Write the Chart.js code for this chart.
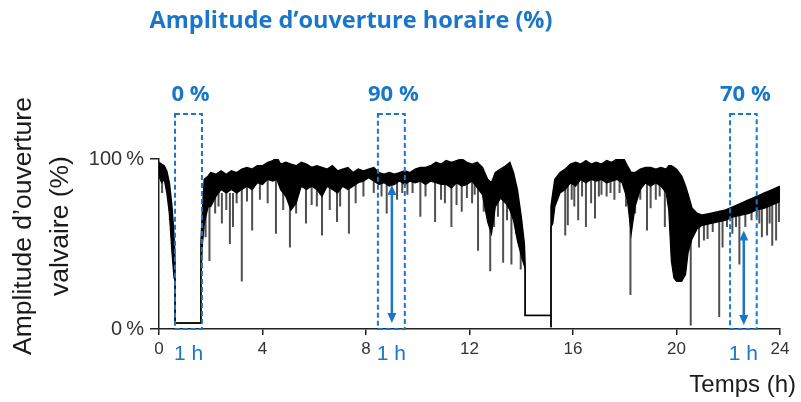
<!DOCTYPE html>
<html><head><meta charset="utf-8">
<script src="https://cdn.jsdelivr.net/npm/chart.js@4"></script>
<style>html,body{margin:0;padding:0;background:#fff}</style>
</head><body>
<canvas id="c" width="801" height="402" style="display:block;width:801px;height:402px"></canvas>
<script>
// ---- Data ----
const xTickHours = [0, 4, 8, 12, 16, 20, 24];
const yTickValues = [0, 100];

// dense signal band: hour, top envelope (%), lower edge of dense band (%)
const bandHours = [0.00,0.10,0.20,0.30,0.40,0.50,0.58,0.62,0.62,1.62,1.62,1.68,1.75,1.90,2.00,2.20,2.40,2.60,2.80,3.00,3.20,3.40,3.60,3.80,4.00,4.20,4.40,4.55,4.70,4.90,5.10,5.30,5.50,5.70,5.90,6.10,6.30,6.50,6.70,6.90,7.10,7.30,7.50,7.70,7.90,8.10,8.30,8.50,8.70,8.90,9.10,9.30,9.50,9.70,9.90,10.10,10.30,10.50,10.70,10.90,11.10,11.30,11.50,11.70,11.90,12.10,12.30,12.50,12.70,12.85,13.00,13.20,13.40,13.56,13.70,13.85,14.00,14.12,14.15,14.15,15.15,15.15,15.15,15.22,15.30,15.50,15.70,15.90,16.10,16.30,16.50,16.70,16.90,17.10,17.30,17.50,17.70,17.90,18.10,18.25,18.40,18.60,18.80,19.00,19.20,19.40,19.60,19.70,19.80,19.90,20.00,20.20,20.35,20.45,20.60,20.80,21.00,21.30,21.60,21.90,22.20,22.50,22.80,23.10,23.40,23.70,24.00];
const bandTop   = [98,97,96,93,86,72,55,40,3.5,3.5,50,70,88,90,92,91,93,91,93,92,94,95,94,96,96,98,99,101,97,98,97,96,98,97,95,96,95,94,96,93,94,95,92,94,93,94,95,92,91,92,91,92,93,92,94,95,95,96,98,97,99,98,99,100,98,97,98,95,88,86,92,94,96,98,92,82,66,50,38,8,8,1,72,80,88,92,94,97,98,97,99,97,98,97,99,98,100,102,96,92,92,94,95,95,94,95,94,96,96,95,94,90,84,79,71,68,67,68,69,70,72,74,76,78,80,82,84];
const bandLow   = [90,86,88,80,68,45,30,29,3.5,3.5,30,50,62,72,72,78,82,80,82,80,82,84,82,86,85,88,87,88,82,78,70,74,84,82,84,82,78,84,82,80,84,82,84,86,87,89,87,85,86,84,85,87,85,87,86,87,85,87,86,85,85,83,86,84,85,87,83,79,63,56,72,77,74,70,64,52,43,37,35,8,8,1,60,62,72,80,82,86,84,88,86,88,87,88,86,87,88,86,76,56,72,82,86,84,86,84,80,70,40,30,28,28,32,45,53,59,61,62,63,64,66,67,68,70,71,73,75];

// downward spikes: hour, lowest value, value where it joins the band
const spikeHours = [0.12,0.42,1.8,1.95,2.17,2.43,2.74,2.86,3.2,3.6,4.52,5.06,5.68,6.3,6.88,7.34,8.8,9.2,9.8,10.1,10.67,11.3,11.7,12.1,12.33,12.55,12.8,13.3,13.62,13.98,15.7,15.8,16.05,16.2,16.5,16.85,17.1,17.3,17.6,18.22,18.86,19.0,19.55,19.7,20.55,20.87,21.06,21.2,21.65,21.78,21.95,22.16,22.43,22.66,22.9,23.3,23.5,23.7,23.85,23.96,
  2.3,2.6,3.0,3.4,3.9,4.2,4.8,5.3,5.9,6.1,6.6,7.0,7.6,7.9,8.3,8.6,9.4,9.6,10.3,10.9,11.05,11.5,11.9,12.2,12.95,13.1,13.45,13.8,15.95,16.35,16.7,17.0,17.45,17.8,18.05,18.4,18.6,19.2,19.35,19.85,21.4,22.3,23.1,23.2,23.6];
const spikeLows  = [80,64,54,40,68,62,50,60,28,58,56,48,62,55,63,56,68,76,80,66,63,60,69,74,46,69,34,39,38,35,55,61,72,64,60,65,79,78,76,20,58,71,60,74,2,48,52,53,7,48,60,56,38,60,64,54,55,49,52,63,
  72,70,74,75,76,74,70,68,73,72,70,72,74,78,80,78,80,79,78,76,74,73,77,79,60,66,64,56,76,78,74,78,80,80,72,68,76,76,78,70,57,60,66,62,62];
const spikeTops  = [90,80,70,75,80,80,80,80,85,85,88,80,85,82,85,85,88,88,90,88,88,88,90,90,88,85,75,80,80,45,88,88,92,92,92,92,92,92,92,80,88,88,88,88,70,68,67,67,68,68,68,70,72,72,74,78,79,80,80,82,
  86,86,86,88,90,92,92,88,90,90,90,88,90,90,92,90,90,90,92,92,92,92,92,92,86,90,92,80,92,92,92,92,92,94,90,88,90,90,90,90,68,72,76,77,80];

// highlighted one-hour windows
const windowStart  = [0.62, 8.46, 22.07];
const windowEnd    = [1.66, 9.50, 23.10];
const windowLabels = ['0 %', '90 %', '70 %'];
const windowHourLabel = '1 h';
const arrowHours  = [9.0, 22.6];
const arrowTops   = [84.7, 58];
const arrowBottoms= [3.5, 2.4];

const titleText = 'Amplitude d\u2019ouverture horaire (%)';
const yTitleLines = ['Amplitude d\u2019ouverture', 'valvaire (%)'];
const xTitleText = 'Temps (h)';

// ---- build library data ----
const topData = bandHours.map((h,i)=>({x:h, y:bandTop[i]}));
const lowData = bandHours.map((h,i)=>({x:h, y:bandLow[i]}));
const spikeData = [];
spikeHours.forEach((h,i)=>{ spikeData.push({x:h,y:spikeTops[i]},{x:h,y:spikeLows[i]},{x:h,y:null}); });

const BLUE = '#1a76c8';
const FONT = "'Liberation Sans', Arial, sans-serif";

const overlay = {
  id:'overlay',
  afterDraw(chart){
    const {ctx, scales:{x,y}} = chart;
    ctx.save();
    ctx.fillStyle = BLUE;
    ctx.font = "bold 23.5px 'Open Sans', sans-serif";
    ctx.textAlign = 'center'; ctx.textBaseline = 'middle';
    ctx.fillText(titleText, 351, 21);
    ctx.save();
    ctx.translate(0, 226); ctx.rotate(-Math.PI/2);
    ctx.fillStyle = '#1a1a1a';
    ctx.font = "26.5px " + FONT;
    ctx.fillText(yTitleLines[0], 0, 24);
    ctx.fillText(yTitleLines[1], 0, 61);
    ctx.restore();
    ctx.fillStyle = '#1a1a1a';
    ctx.font = "24px " + FONT;
    ctx.textAlign = 'right';
    ctx.fillText(xTitleText, 796, 385);
    const yTop = y.getPixelForValue(126.5), yBot = y.getPixelForValue(0);
    ctx.strokeStyle = BLUE; ctx.lineWidth = 2; ctx.setLineDash([5,3]);
    windowStart.forEach((s,i)=>{
      const x0 = x.getPixelForValue(s), x1 = x.getPixelForValue(windowEnd[i]);
      ctx.strokeRect(x0, yTop, x1-x0, yBot-yTop);
    });
    ctx.setLineDash([]);
    ctx.fillStyle = BLUE; ctx.textAlign='center'; ctx.textBaseline='middle';
    windowStart.forEach((s,i)=>{
      const xc = (x.getPixelForValue(s)+x.getPixelForValue(windowEnd[i]))/2;
      ctx.font = "bold 22px 'Open Sans', sans-serif";
      ctx.fillText(windowLabels[i], xc+2, y.getPixelForValue(138));
      ctx.font = "21px " + FONT;
      ctx.fillText(windowHourLabel, xc, yBot+25);
    });
    ctx.lineWidth = 2.5;
    arrowHours.forEach((h,i)=>{
      const xa = x.getPixelForValue(h), ya = y.getPixelForValue(arrowTops[i]), yb = y.getPixelForValue(arrowBottoms[i]);
      ctx.beginPath(); ctx.moveTo(xa, ya+6); ctx.lineTo(xa, yb-6); ctx.stroke();
      ctx.beginPath(); ctx.moveTo(xa, ya); ctx.lineTo(xa-4.5, ya+10); ctx.lineTo(xa+4.5, ya+10); ctx.closePath(); ctx.fill();
      ctx.beginPath(); ctx.moveTo(xa, yb); ctx.lineTo(xa-4.5, yb-10); ctx.lineTo(xa+4.5, yb-10); ctx.closePath(); ctx.fill();
    });
    ctx.restore();
  }
};

new Chart(document.getElementById('c'), {
  type:'line',
  data:{ datasets:[
    {data:spikeData, borderColor:'#505050', borderWidth:2, pointRadius:0, spanGaps:false, tension:0, fill:false, order:10},
    {data:topData, borderColor:'#000', borderWidth:1.5, pointRadius:0, tension:0, fill:false, order:1},
    {data:lowData, borderColor:'#000', borderWidth:1.2, pointRadius:0, tension:0, fill:1, backgroundColor:'#000', order:0}
  ]},
  options:{
    responsive:false, devicePixelRatio:1, animation:false,
    layout:{padding:{left:0,right:21,top:159,bottom:0}},
    plugins:{legend:{display:false}, tooltip:{enabled:false}, title:{display:false}},
    scales:{
      x:{type:'linear', min:0, max:24,
        afterFit(s){ s.height = 73; },
        afterBuildTicks(s){ s.ticks = xTickHours.map(v=>({value:v})); },
        ticks:{color:'#333', font:{size:17, family:FONT}, padding:4, maxRotation:0, autoSkip:false},
        grid:{drawOnChartArea:false, drawTicks:true, tickLength:6, color:'#222', lineWidth:1.5},
        border:{color:'#222', width:1.5}},
      y:{min:0, max:100,
        afterFit(s){ s.width = 159; },
        afterBuildTicks(s){ s.ticks = yTickValues.map(v=>({value:v})); },
        ticks:{color:'#333', font:{size:20, family:FONT}, padding:6, callback:v=>v+'\u202f%'},
        grid:{drawOnChartArea:false, drawTicks:true, tickLength:9, color:'#222', lineWidth:1.5},
        border:{color:'#222', width:1.5}}
    }
  },
  plugins:[overlay]
});
</script>
</body></html>
